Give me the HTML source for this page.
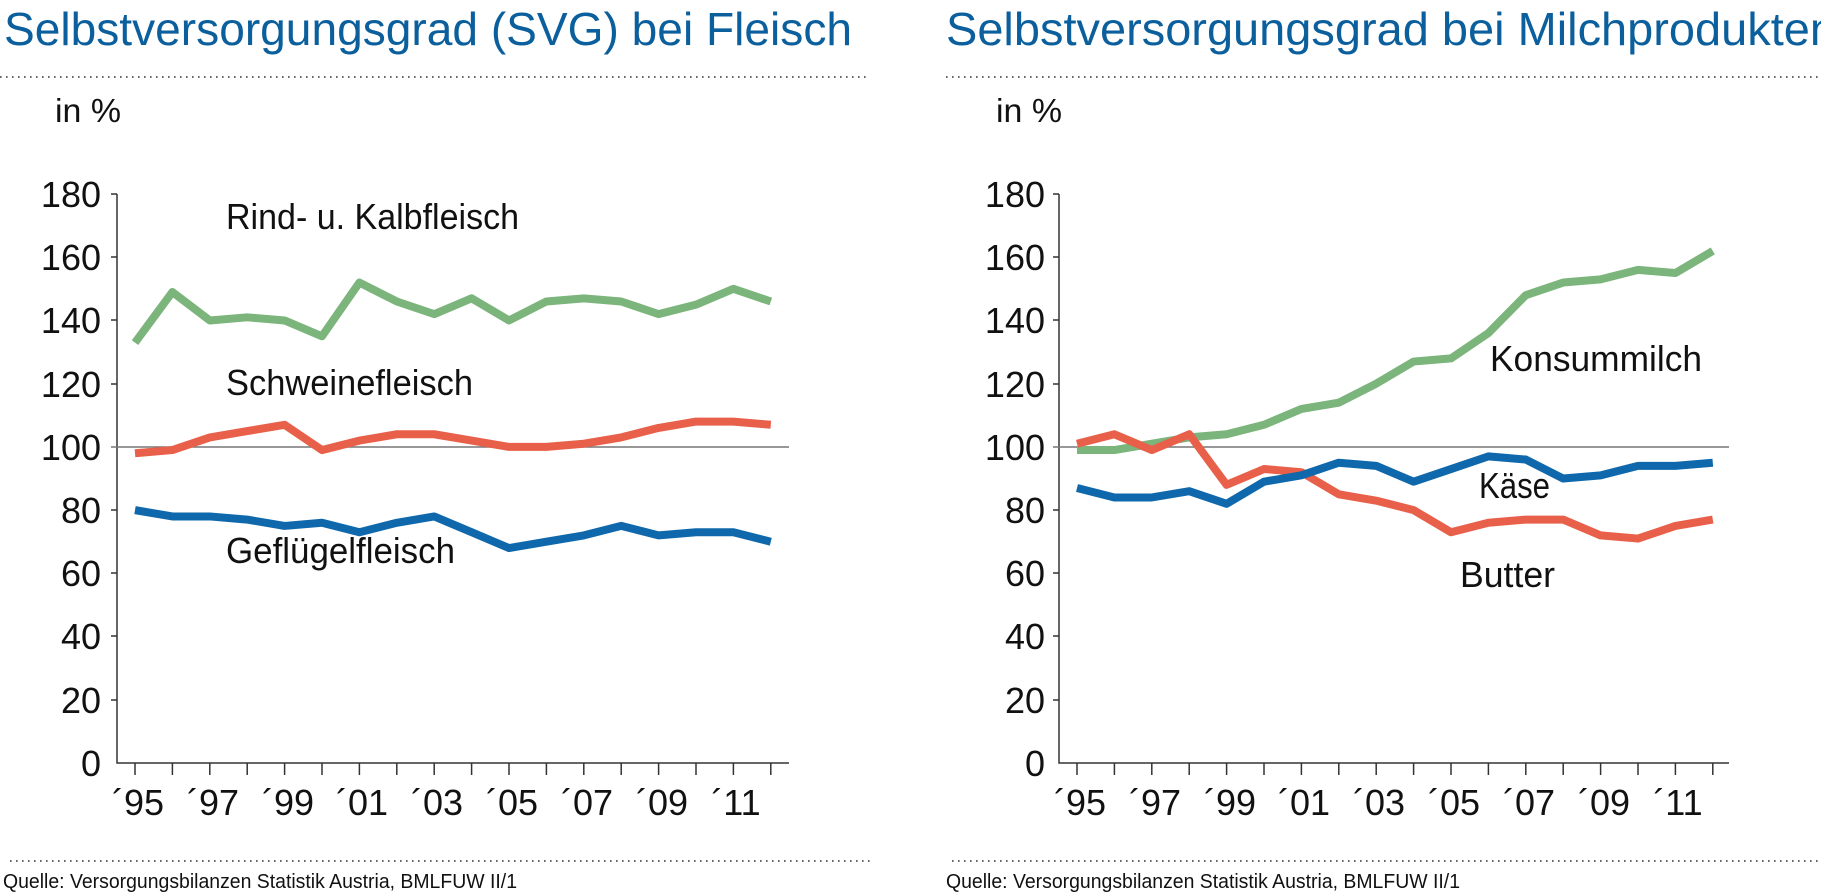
<!DOCTYPE html>
<html><head><meta charset="utf-8"><style>
html,body{margin:0;padding:0;background:#fff;}
svg{display:block;font-family:"Liberation Sans",sans-serif;}
</style></head><body>
<svg width="1821" height="896" viewBox="0 0 1821 896" xmlns="http://www.w3.org/2000/svg">
<g fill="#0b5f9c" font-size="46">
<text x="4" y="45" textLength="848" lengthAdjust="spacingAndGlyphs">Selbstversorgungsgrad (SVG) bei Fleisch</text>
<text x="946" y="45" textLength="890" lengthAdjust="spacingAndGlyphs">Selbstversorgungsgrad bei Milchprodukten</text>
</g>
<g stroke="#333" stroke-width="1.6" stroke-dasharray="1.6 4.4">
<line x1="0" y1="77" x2="870" y2="77"/><line x1="946" y1="77" x2="1821" y2="77"/>
<line x1="10" y1="861" x2="873" y2="861"/><line x1="952" y1="861" x2="1821" y2="861"/>
</g>
<g font-size="20" fill="#111">
<text x="3" y="888" textLength="514" lengthAdjust="spacingAndGlyphs">Quelle: Versorgungsbilanzen Statistik Austria, BMLFUW II/1</text>
<text x="946" y="888" textLength="514" lengthAdjust="spacingAndGlyphs">Quelle: Versorgungsbilanzen Statistik Austria, BMLFUW II/1</text>
</g>
<g font-size="33" fill="#111">
<text x="55" y="122" textLength="66" lengthAdjust="spacingAndGlyphs">in %</text><text x="996" y="122" textLength="66" lengthAdjust="spacingAndGlyphs">in %</text>
</g>

<!-- LEFT CHART -->
<g stroke="#333" stroke-width="1.5" fill="none">
<path d="M117 194V763H789"/>
<path d="M111 194H117M111 257H117M111 320H117M111 384H117M111 510H117M111 573H117M111 636H117M111 700H117"/>
<path d="M135 763v12M172.4 763v12M209.8 763v12M247.2 763v12M284.6 763v12M322 763v12M359.4 763v12M396.8 763v12M434.2 763v12M471.6 763v12M509 763v12M546.4 763v12M583.8 763v12M621.2 763v12M658.6 763v12M696 763v12M733.4 763v12M770.8 763v12"/>
</g>
<line x1="111" y1="447" x2="789" y2="447" stroke="#777" stroke-width="1.5"/>
<g font-size="36" fill="#111" text-anchor="end">
<text x="101" y="207">180</text><text x="101" y="270">160</text><text x="101" y="333">140</text><text x="101" y="397">120</text><text x="101" y="460">100</text><text x="101" y="523">80</text><text x="101" y="586">60</text><text x="101" y="649">40</text><text x="101" y="713">20</text><text x="101" y="776">0</text>
</g>
<g font-size="36" fill="#111" text-anchor="middle">
<text x="138" y="815">´95</text><text x="213" y="815">´97</text><text x="288" y="815">´99</text><text x="362" y="815">´01</text><text x="437" y="815">´03</text><text x="512" y="815">´05</text><text x="587" y="815">´07</text><text x="662" y="815">´09</text><text x="736" y="815">´11</text>
</g>
<g font-size="36" fill="#111">
<text x="226" y="229" textLength="293" lengthAdjust="spacingAndGlyphs">Rind- u. Kalbfleisch</text>
<text x="226" y="395" textLength="247" lengthAdjust="spacingAndGlyphs">Schweinefleisch</text>
<text x="226" y="563" textLength="229" lengthAdjust="spacingAndGlyphs">Geflügelfleisch</text>
</g>
<g transform="translate(0,763) scale(1,-3.161)" fill="none" stroke-width="8" stroke-linejoin="round">
<polyline vector-effect="non-scaling-stroke" stroke="#7bb57b" points="135,133 172.4,149 209.8,140 247.2,141 284.6,140 322,135 359.4,152 396.8,146 434.2,142 471.6,147 509,140 546.4,146 583.8,147 621.2,146 658.6,142 696,145 733.4,150 770.8,146"/>
<polyline vector-effect="non-scaling-stroke" stroke="#e8604a" points="135,98 172.4,99 209.8,103 247.2,105 284.6,107 322,99 359.4,102 396.8,104 434.2,104 471.6,102 509,100 546.4,100 583.8,101 621.2,103 658.6,106 696,108 733.4,108 770.8,107"/>
<polyline vector-effect="non-scaling-stroke" stroke="#0f68ab" points="135,80 172.4,78 209.8,78 247.2,77 284.6,75 322,76 359.4,73 396.8,76 434.2,78 471.6,73 509,68 546.4,70 583.8,72 621.2,75 658.6,72 696,73 733.4,73 770.8,70"/>
</g>

<!-- RIGHT CHART -->
<g stroke="#333" stroke-width="1.5" fill="none">
<path d="M1059 194V763H1729"/>
<path d="M1053 194H1059M1053 257H1059M1053 320H1059M1053 384H1059M1053 510H1059M1053 573H1059M1053 636H1059M1053 700H1059"/>
<path d="M1077 763v12M1114.4 763v12M1151.8 763v12M1189.2 763v12M1226.6 763v12M1264 763v12M1301.4 763v12M1338.8 763v12M1376.2 763v12M1413.6 763v12M1451 763v12M1488.4 763v12M1525.8 763v12M1563.2 763v12M1600.6 763v12M1638 763v12M1675.4 763v12M1712.8 763v12"/>
</g>
<line x1="1053" y1="447" x2="1729" y2="447" stroke="#777" stroke-width="1.5"/>
<g font-size="36" fill="#111" text-anchor="end">
<text x="1045" y="207">180</text><text x="1045" y="270">160</text><text x="1045" y="333">140</text><text x="1045" y="397">120</text><text x="1045" y="460">100</text><text x="1045" y="523">80</text><text x="1045" y="586">60</text><text x="1045" y="649">40</text><text x="1045" y="713">20</text><text x="1045" y="776">0</text>
</g>
<g font-size="36" fill="#111" text-anchor="middle">
<text x="1080" y="815">´95</text><text x="1155" y="815">´97</text><text x="1230" y="815">´99</text><text x="1304" y="815">´01</text><text x="1379" y="815">´03</text><text x="1454" y="815">´05</text><text x="1529" y="815">´07</text><text x="1604" y="815">´09</text><text x="1678" y="815">´11</text>
</g>
<g font-size="36" fill="#111">
<text x="1490" y="371" textLength="212" lengthAdjust="spacingAndGlyphs">Konsummilch</text>
<text x="1479" y="498" textLength="71" lengthAdjust="spacingAndGlyphs">Käse</text>
<text x="1460" y="587" textLength="95" lengthAdjust="spacingAndGlyphs">Butter</text>
</g>
<g transform="translate(0,763) scale(1,-3.161)" fill="none" stroke-width="8" stroke-linejoin="round">
<polyline vector-effect="non-scaling-stroke" stroke="#7bb57b" points="1077,99 1114.4,99 1151.8,101 1189.2,103 1226.6,104 1264,107 1301.4,112 1338.8,114 1376.2,120 1413.6,127 1451,128 1488.4,136 1525.8,148 1563.2,152 1600.6,153 1638,156 1675.4,155 1712.8,162"/>
<polyline vector-effect="non-scaling-stroke" stroke="#e8604a" points="1077,101 1114.4,104 1151.8,99 1189.2,104 1226.6,88 1264,93 1301.4,92 1338.8,85 1376.2,83 1413.6,80 1451,73 1488.4,76 1525.8,77 1563.2,77 1600.6,72 1638,71 1675.4,75 1712.8,77"/>
<polyline vector-effect="non-scaling-stroke" stroke="#0f68ab" points="1077,87 1114.4,84 1151.8,84 1189.2,86 1226.6,82 1264,89 1301.4,91 1338.8,95 1376.2,94 1413.6,89 1451,93 1488.4,97 1525.8,96 1563.2,90 1600.6,91 1638,94 1675.4,94 1712.8,95"/>
</g>
</svg>
</body></html>
